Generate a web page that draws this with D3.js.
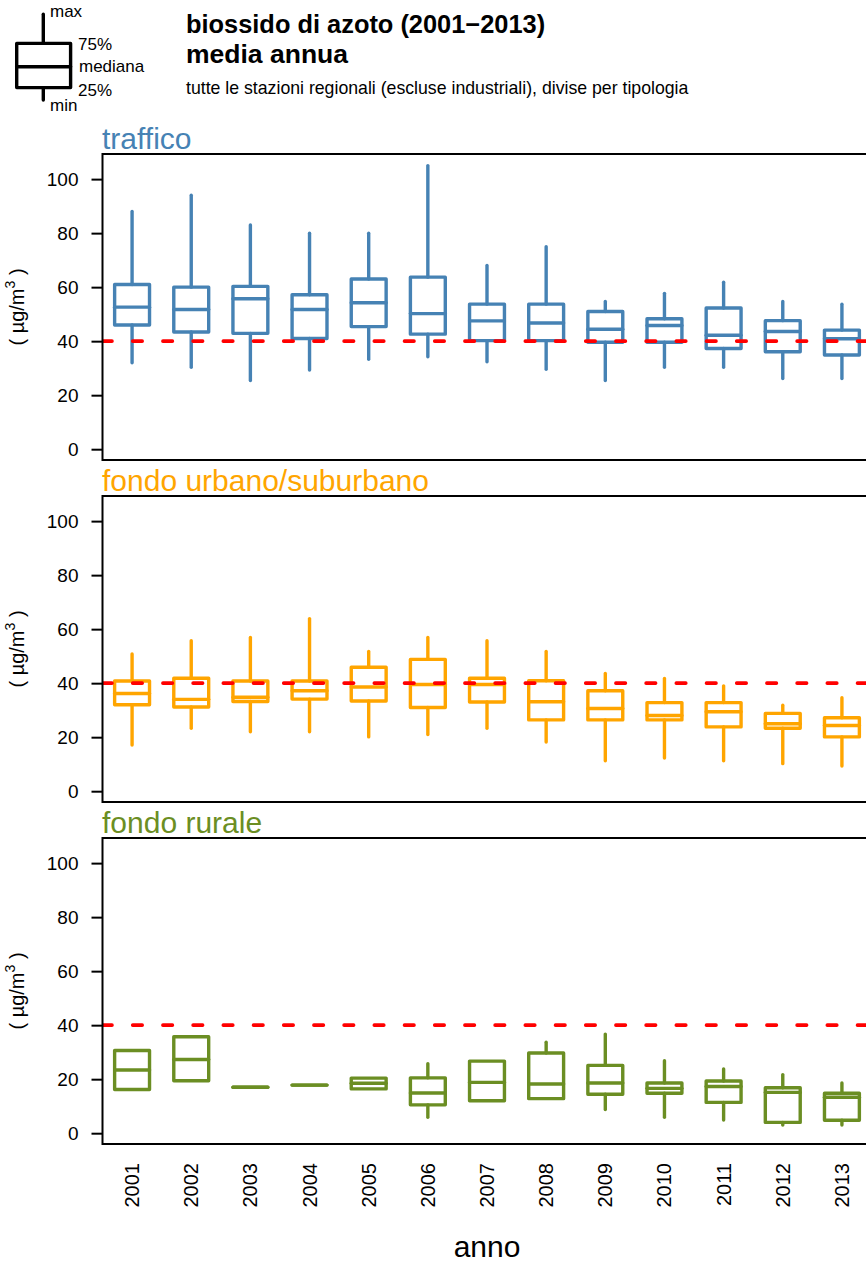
<!DOCTYPE html>
<html><head><meta charset="utf-8">
<script src="https://cdn.jsdelivr.net/npm/d3@7"></script>
<style>
body{margin:0;background:#fff}
svg{display:block}
text{font-family:"Liberation Sans",Arial,Helvetica,sans-serif}
</style>
</head><body>
<script>
// ---------- data ----------
const years = [2001,2002,2003,2004,2005,2006,2007,2008,2009,2010,2011,2012,2013];
const yTicks = [0,20,40,60,80,100];
const limitValue = 40;
const panelTitles = ["traffico","fondo urbano/suburbano","fondo rurale"];
const panelColors = ["#4682B4","#FFA500","#6B8E23"];

const trafficoMin = [32.0,30.3,25.4,29.3,33.3,34.2,32.4,29.6,25.4,30.3,30.3,26.2,26.2];
const trafficoQ1  = [46.0,43.4,42.9,41.0,45.4,42.6,40.2,40.2,39.6,39.6,37.3,36.1,34.9];
const trafficoMed = [52.6,51.7,55.7,51.7,54.2,50.2,47.5,46.7,44.4,45.8,42.2,43.6,40.9];
const trafficoQ3  = [61.0,60.0,60.3,57.2,63.0,63.7,53.7,53.7,51.0,48.3,52.3,47.6,44.1];
const trafficoMax = [88.0,94.0,83.0,80.0,80.0,105.0,68.0,75.0,54.7,57.7,61.8,54.7,53.7];

const urbanoMin = [17.1,23.3,22.0,22.0,20.1,21.0,23.3,18.2,11.3,12.3,11.3,10.2,9.3];
const urbanoQ1  = [32.0,31.2,33.2,34.1,33.4,31.0,33.0,26.4,26.4,26.4,23.8,23.3,20.1];
const urbanoMed = [36.2,34.0,34.8,37.2,38.6,39.5,39.5,33.1,30.6,28.0,29.4,25.0,24.3];
const urbanoQ3  = [40.8,41.8,40.8,40.8,45.9,48.8,41.8,40.9,37.2,32.8,32.8,28.8,27.2];
const urbanoMax = [50.8,55.7,56.9,63.9,51.7,56.9,55.7,51.7,43.6,41.7,39.0,31.8,34.6];

const ruraleMin = [16.2,19.4,17.0,17.8,16.4,5.9,12.0,12.8,8.8,5.9,4.9,3.0,3.0];
const ruraleQ1  = [16.2,19.4,17.0,17.8,16.4,10.5,12.0,12.8,14.4,14.8,11.4,4.0,4.8];
const ruraleMed = [23.4,27.3,17.0,17.8,18.5,14.9,18.8,18.2,18.6,16.6,17.3,15.1,13.3];
const ruraleQ3  = [30.6,35.7,17.0,17.8,20.4,20.5,26.7,29.7,25.1,18.6,19.3,16.8,14.8];
const ruraleMax = [30.6,35.7,17.0,17.8,20.4,25.7,26.7,33.7,36.7,26.8,23.8,21.7,18.6];

const titleLine1 = "biossido di azoto (2001\u22122013)";
const titleLine2 = "media annua";
const subtitle = "tutte le stazioni regionali (escluse industriali), divise per tipologia";
const legendLabels = ["max","75%","mediana","25%","min"];
const xAxisTitle = "anno";

const panelStats = [
  [trafficoMin,trafficoQ1,trafficoMed,trafficoQ3,trafficoMax],
  [urbanoMin,urbanoQ1,urbanoMed,urbanoQ3,urbanoMax],
  [ruraleMin,ruraleQ1,ruraleMed,ruraleQ3,ruraleMax]
];

// ---------- drawing ----------
const W = 866, H = 1266;
const svg = d3.select("body").append("svg").attr("width",W).attr("height",H);

const x = d3.scaleLinear().domain([0.5, years.length + 0.5]).range([102.5, 871.5]);
const halfW = (x(1) - x(0)) * 0.295;
const panelH = 306, panelGap = 342, firstTop = 154;

panelStats.forEach((stats, p) => {
  const top = firstTop + p * panelGap;
  const y = d3.scaleLinear().domain([-4.0, 109.3]).range([top + panelH, top]);
  const color = panelColors[p];
  const g = svg.append("g");

  const clipId = "clip" + p;
  svg.append("clipPath").attr("id", clipId).append("rect")
    .attr("x", x(0.5)).attr("y", top).attr("width", x(years.length + 0.5) - x(0.5)).attr("height", panelH);

  // panel title
  g.append("text").attr("x", 102).attr("y", top - 5.5)
    .attr("font-size", 30).attr("fill", color).text(panelTitles[p]);

  // y axis
  const ax = g.append("g").attr("transform", `translate(${x(0.5)},0)`)
    .call(d3.axisLeft(y).tickValues(yTicks).tickSize(11).tickPadding(13).tickFormat(d3.format("d")));
  ax.select(".domain").remove();
  ax.selectAll(".tick line").attr("stroke", "#000").attr("stroke-width", 2);
  ax.selectAll(".tick text").attr("font-size", 19).attr("fill", "#000")
    .attr("font-family", '"Liberation Sans",Arial,Helvetica,sans-serif');

  // y axis title
  const yl = g.append("text")
    .attr("transform", `translate(24,${top + panelH / 2}) rotate(-90)`)
    .attr("text-anchor", "middle").attr("font-size", 20).attr("fill", "#000");
  yl.append("tspan").text("(  \u00B5g/m");
  yl.append("tspan").attr("font-size", 14).attr("dy", -9).text("3");
  yl.append("tspan").attr("dy", 9).text("  )");

  const [mn, q1, md, q3, mx] = stats;
  const boxes = g.append("g").attr("clip-path", `url(#${clipId})`)
    .attr("stroke", color).attr("stroke-width", 3.4).attr("fill", "none")
    .attr("stroke-linecap", "round").attr("stroke-linejoin", "round");

  years.forEach((yr, i) => {
    const cx = x(i + 1);
    if (mx[i] > q3[i]) boxes.append("line").attr("x1", cx).attr("x2", cx).attr("y1", y(q3[i])).attr("y2", y(mx[i]));
    if (mn[i] < q1[i]) boxes.append("line").attr("x1", cx).attr("x2", cx).attr("y1", y(q1[i])).attr("y2", y(mn[i]));
    boxes.append("path").attr("d",
      `M${cx - halfW},${y(q3[i])}H${cx + halfW}V${y(q1[i])}H${cx - halfW}Z`);
    boxes.append("line").attr("x1", cx - halfW).attr("x2", cx + halfW).attr("y1", y(md[i])).attr("y2", y(md[i]));
  });

  // limit line
  g.append("line").attr("clip-path", `url(#${clipId})`)
    .attr("x1", x(0.5)).attr("x2", x(years.length + 0.5))
    .attr("y1", y(limitValue)).attr("y2", y(limitValue))
    .attr("stroke", "#FF0000").attr("stroke-width", 3.6)
    .attr("stroke-dasharray", "9.5,20.7").attr("stroke-linecap", "round");

  // border
  g.append("rect").attr("x", x(0.5)).attr("y", top)
    .attr("width", x(years.length + 0.5) - x(0.5)).attr("height", panelH)
    .attr("fill", "none").attr("stroke", "#000").attr("stroke-width", 2);

  // x labels only on bottom panel
  if (p === panelStats.length - 1) {
    years.forEach((yr, i) => {
      g.append("text").attr("transform", `translate(${x(i + 1)},${top + panelH + 19}) rotate(-90)`)
        .attr("text-anchor", "end").attr("dy", "0.35em").attr("font-size", 20).attr("fill", "#000").text(yr);
    });
    g.append("text").attr("x", (x(0.5) + x(years.length + 0.5)) / 2).attr("y", 1257)
      .attr("text-anchor", "middle").attr("font-size", 30).attr("fill", "#000").text(xAxisTitle);
  }
});

// ---------- header ----------
svg.append("text").attr("x", 186).attr("y", 33).attr("font-size", 25.4).attr("font-weight", "bold").text(titleLine1);
svg.append("text").attr("x", 186).attr("y", 63).attr("font-size", 26.5).attr("font-weight", "bold").text(titleLine2);
svg.append("text").attr("x", 186).attr("y", 94).attr("font-size", 17.7).text(subtitle);

// legend symbol
const lg = svg.append("g").attr("stroke", "#000").attr("stroke-width", 3.4).attr("fill", "none")
  .attr("stroke-linecap", "round").attr("stroke-linejoin", "round");
lg.append("line").attr("x1", 43.3).attr("x2", 43.3).attr("y1", 14.3).attr("y2", 43.4);
lg.append("line").attr("x1", 43.3).attr("x2", 43.3).attr("y1", 87.6).attr("y2", 100);
lg.append("path").attr("d", "M16.7,43.4H70.6V87.6H16.7Z");
lg.append("line").attr("x1", 16.7).attr("x2", 70.6).attr("y1", 66.7).attr("y2", 66.7);
const legPos = [[50,17],[78,50],[79,72],[78,96],[50,111]];
legendLabels.forEach((t, i) => {
  svg.append("text").attr("x", legPos[i][0]).attr("y", legPos[i][1]).attr("font-size", 17).text(t);
});
</script>
</body></html>
